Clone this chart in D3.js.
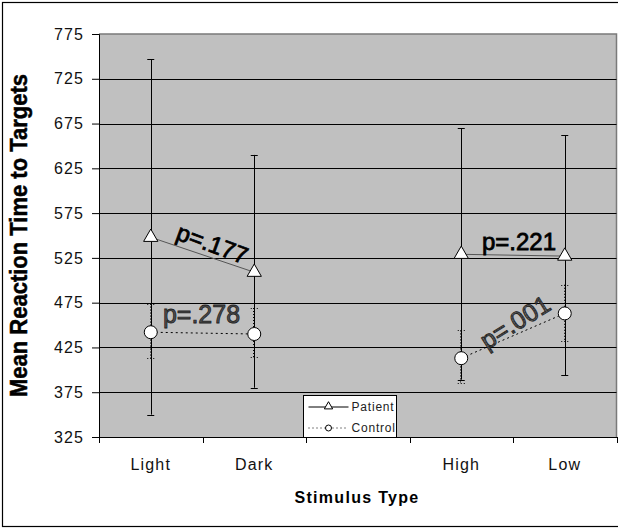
<!DOCTYPE html>
<html>
<head>
<meta charset="utf-8">
<script src="https://cdn.jsdelivr.net/npm/d3@7"></script>
<style>
  body { margin: 0; background: #fff; }
  svg { display: block; }
</style>
</head>
<body>
<svg></svg>
<script>
const width = 618;
const height = 528;

// data
const categories = ["Light", "Dark", "", "High", "Low"];
const patientMean  = [548, 509, null, 529, 527];
const patientUpper = [747, 640, null, 670, 662];
const patientLower = [350, 380, null, 389, 394];
const controlMean  = [442, 440, null, 413, 463];
const controlUpper = [474, 469, null, 444, 495];
const controlLower = [413, 414, null, 385, 432];
const yTicks = [325, 375, 425, 475, 525, 575, 625, 675, 725, 775];
const pairs = [["Light", "Dark"], ["High", "Low"]];
const pPatient = ["p=.177", "p=.221"];
const pControl = ["p=.278", "p=.001"];

const plot = {left: 99, right: 616.5, top: 34, bottom: 437};

const svg = d3.select("svg")
  .attr("width", width)
  .attr("height", height);

const defs = svg.append("defs");
const pat = defs.append("pattern")
  .attr("id", "dither")
  .attr("width", 2).attr("height", 2)
  .attr("patternUnits", "userSpaceOnUse");
pat.append("rect").attr("width", 2).attr("height", 2).attr("fill", "#7a7a7a");
pat.append("rect").attr("width", 1).attr("height", 1).attr("fill", "#222");
pat.append("rect").attr("x", 1).attr("y", 1).attr("width", 1).attr("height", 1).attr("fill", "#222");

// outer frame
svg.append("rect")
  .attr("x", 2.5).attr("y", 2.5)
  .attr("width", 620).attr("height", 524)
  .attr("fill", "none")
  .attr("stroke", "#000")
  .attr("stroke-width", 1.2);

const xScale = d3.scaleBand()
  .domain(categories)
  .range([plot.left, plot.right]);

const yScale = d3.scaleLinear()
  .domain([325, 775])
  .range([plot.bottom, plot.top]);

const cx = c => xScale(c) + xScale.bandwidth() / 2;

// plot area
svg.append("rect")
  .attr("x", plot.left).attr("y", plot.top)
  .attr("width", plot.right - plot.left)
  .attr("height", plot.bottom - plot.top)
  .attr("fill", "#c0c0c0");

svg.append("polyline")
  .attr("points", `${plot.left},${plot.top} ${plot.right},${plot.top} ${plot.right},${plot.bottom}`)
  .attr("fill", "none")
  .attr("stroke", "#7a7a7a")
  .attr("stroke-width", 1.5);

// gridlines
svg.append("g")
  .selectAll("line")
  .data(yTicks.filter(t => t > 325 && t < 775))
  .enter()
  .append("line")
  .attr("x1", plot.left).attr("x2", plot.right)
  .attr("y1", d => Math.round(yScale(d)) + 0.5)
  .attr("y2", d => Math.round(yScale(d)) + 0.5)
  .attr("stroke", "#000");

// y axis
const yAxis = d3.axisLeft(yScale)
  .tickValues(yTicks)
  .tickSize(7)
  .tickPadding(8);

svg.append("g")
  .attr("transform", `translate(${plot.left},0)`)
  .call(yAxis)
  .call(g => g.select(".domain").attr("stroke", "#000"))
  .call(g => g.selectAll("line").attr("stroke", "#000"))
  .call(g => g.selectAll("text")
    .attr("font-family", "Liberation Sans, Arial, sans-serif")
    .attr("font-size", 16)
    .attr("letter-spacing", 1.1)
    .attr("fill", "#111"));

// x axis
const xAxis = d3.axisBottom(xScale)
  .tickSize(0)
  .tickPadding(22);

svg.append("g")
  .attr("transform", `translate(0,${plot.bottom})`)
  .call(xAxis)
  .call(g => g.select(".domain").attr("stroke", "#000"))
  .call(g => g.selectAll("text")
    .attr("font-family", "Liberation Sans, Arial, sans-serif")
    .attr("font-size", 16)
    .attr("letter-spacing", 1.2)
    .attr("fill", "#111"));

const bounds = categories.map(c => xScale(c)).concat([xScale.range()[1]]);
svg.append("g")
  .selectAll("line")
  .data(bounds)
  .enter()
  .append("line")
  .attr("x1", d => Math.round(d) + 0.5).attr("x2", d => Math.round(d) + 0.5)
  .attr("y1", plot.bottom).attr("y2", plot.bottom + 6)
  .attr("stroke", "#000");

// axis titles
svg.append("text")
  .attr("transform", `translate(18,${(plot.top + plot.bottom) / 2 + 0}) rotate(-90)`)
  .attr("text-anchor", "middle")
  .attr("dominant-baseline", "central")
  .attr("font-family", "Liberation Sans, Arial, sans-serif")
  .attr("font-weight", "bold")
  .attr("font-size", 24)
  .attr("stroke", "#000")
  .attr("stroke-width", 0.5)
  .attr("textLength", 323)
  .attr("lengthAdjust", "spacingAndGlyphs")
  .text("Mean Reaction Time to Targets");

svg.append("text")
  .attr("x", 357)
  .attr("y", 503)
  .attr("text-anchor", "middle")
  .attr("font-family", "Liberation Sans, Arial, sans-serif")
  .attr("font-weight", "bold")
  .attr("font-size", 16)
  .attr("letter-spacing", 1.3)
  .text("Stimulus Type");

// rows of points
const patient = categories.map((c, i) => ({c, v: patientMean[i], hi: patientUpper[i], lo: patientLower[i]}))
  .filter(d => d.v != null);
const control = categories.map((c, i) => ({c, v: controlMean[i], hi: controlUpper[i], lo: controlLower[i]}))
  .filter(d => d.v != null);

// patient error bars
const pe = svg.append("g").attr("stroke", "#000").attr("stroke-width", 1);
pe.selectAll(".v").data(patient).enter().append("line")
  .attr("x1", d => Math.round(cx(d.c)) + 0.5).attr("x2", d => Math.round(cx(d.c)) + 0.5)
  .attr("y1", d => yScale(d.hi)).attr("y2", d => yScale(d.lo));
pe.selectAll(".t").data(patient.flatMap(d => [{c: d.c, y: d.hi}, {c: d.c, y: d.lo}]))
  .enter().append("line")
  .attr("x1", d => cx(d.c) - 3.5).attr("x2", d => cx(d.c) + 3.5)
  .attr("y1", d => Math.round(yScale(d.y)) + 0.5).attr("y2", d => Math.round(yScale(d.y)) + 0.5);

// control error bars (dotted)
const ce = svg.append("g").attr("stroke", "#000").attr("stroke-width", 1).attr("stroke-dasharray", "1,2");
ce.selectAll(".v").data(control).enter().append("line")
  .attr("x1", d => Math.round(cx(d.c)) - 0.5).attr("x2", d => Math.round(cx(d.c)) - 0.5)
  .attr("y1", d => yScale(d.hi)).attr("y2", d => yScale(d.lo));
ce.selectAll(".t").data(control.flatMap(d => [{c: d.c, y: d.hi}, {c: d.c, y: d.lo}]))
  .enter().append("line")
  .attr("x1", d => cx(d.c) - 3.5).attr("x2", d => cx(d.c) + 3.5)
  .attr("y1", d => Math.round(yScale(d.y)) + 0.5).attr("y2", d => Math.round(yScale(d.y)) + 0.5);

// connecting lines
const line = d3.line().x(d => cx(d.c)).y(d => yScale(d.v));
pairs.forEach(p => {
  svg.append("path")
    .datum(patient.filter(d => p.includes(d.c)))
    .attr("d", line)
    .attr("fill", "none")
    .attr("stroke", "#555")
    .attr("stroke-width", 1);
  svg.append("path")
    .datum(control.filter(d => p.includes(d.c)))
    .attr("d", line)
    .attr("fill", "none")
    .attr("stroke", "#000")
    .attr("stroke-dasharray", "2,3")
    .attr("stroke-width", 1);
});

// p-value labels
const labelStyle = [
  {set: patient, dx: 10, dy: -11, rot: 20, size: 24, fill: "#000", stroke: "#000"},
  {set: control, dx: -1, dy: -19, rot: 0, size: 25, fill: "url(#dither)", stroke: "#222"}
];
pairs.forEach((p, i) => {
  [pPatient[i], pControl[i]].forEach((txt, k) => {
    const st = labelStyle[k];
    const pts = st.set.filter(d => p.includes(d.c));
    const mx = d3.mean(pts, d => cx(d.c));
    const my = d3.mean(pts, d => yScale(d.v));
    const ang = Math.atan2(yScale(pts[1].v) - yScale(pts[0].v), cx(pts[1].c) - cx(pts[0].c)) * 180 / Math.PI;
    let dx = st.dx, dy = st.dy, rot = st.rot;
    if (i === 1 && k === 0) { dx = 6; dy = -14; rot = 0; }
    if (i === 1 && k === 1) { dx = 2; dy = -14; rot = -32; }
    if (i === 0 && k === 0) { rot = ang + 1.5; }
    svg.append("text")
      .attr("transform", `translate(${mx + dx},${my + dy}) rotate(${rot})`)
      .attr("text-anchor", "middle")
      .attr("dominant-baseline", "central")
      .attr("font-family", "Liberation Sans, Arial, sans-serif")
      .attr("font-size", st.size)
      .attr("fill", st.fill)
      .attr("stroke", st.stroke)
      .attr("stroke-width", 0.8)
      .text(txt);
  });
});

// markers
const tri = d3.symbol(d3.symbolTriangle, 88);
svg.append("g").selectAll("path").data(patient).enter().append("path")
  .attr("d", tri)
  .attr("transform", d => `translate(${cx(d.c)},${yScale(d.v)})`)
  .attr("fill", "#fff")
  .attr("stroke", "#000");

svg.append("g").selectAll("circle").data(control).enter().append("circle")
  .attr("cx", d => cx(d.c))
  .attr("cy", d => yScale(d.v))
  .attr("r", 6.5)
  .attr("fill", "#fff")
  .attr("stroke", "#000");

// legend
const lg = svg.append("g").attr("transform", "translate(303.5,395.5)");
lg.append("rect")
  .attr("width", 93).attr("height", 42)
  .attr("fill", "#fff")
  .attr("stroke", "#000");
lg.append("line").attr("x1", 5).attr("x2", 45).attr("y1", 11.5).attr("y2", 11.5).attr("stroke", "#000");
lg.append("path").attr("d", d3.symbol(d3.symbolTriangle, 30)).attr("transform", "translate(25,11)")
  .attr("fill", "#fff").attr("stroke", "#000");
lg.append("line").attr("x1", 5).attr("x2", 45).attr("y1", 32.5).attr("y2", 32.5)
  .attr("stroke", "#000").attr("stroke-dasharray", "1,3");
lg.append("circle").attr("cx", 25).attr("cy", 32.5).attr("r", 3)
  .attr("fill", "#fff").attr("stroke", "#000");
lg.selectAll("text").data(["Patient", "Control"]).enter().append("text")
  .attr("x", 48)
  .attr("y", (d, i) => 11.5 + i * 21)
  .attr("dominant-baseline", "central")
  .attr("font-family", "Liberation Sans, Arial, sans-serif")
  .attr("font-size", 12)
  .attr("letter-spacing", 0.8)
  .attr("fill", "#222")
  .text(d => d);
</script>
</body>
</html>
